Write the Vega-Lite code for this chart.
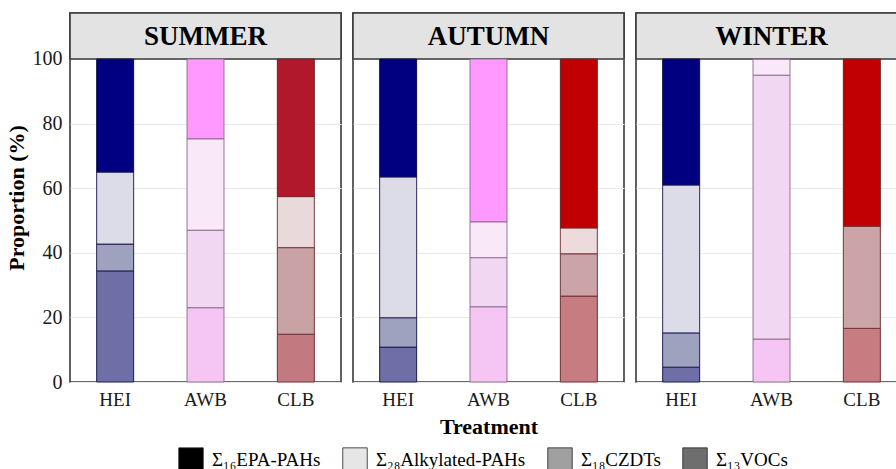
{
  "$schema": "https://vega.github.io/schema/vega-lite/v6.json",
  "background": "white",
  "padding": {"left": 5, "top": 11, "right": 0, "bottom": 0},
  "config": {
    "font": "Liberation Serif",
    "view": {"stroke": "#3a3a3a", "strokeWidth": 1.6},
    "style": {"guide-label": {"font": "Liberation Serif"}, "guide-title": {"font": "Liberation Serif"}},
    "axis": {"labelFont": "Liberation Serif", "labelColor": "#1a1a1a", "titleFont": "Liberation Serif", "titleColor": "#000", "domain": false, "ticks": false},
    "legend": {"labelFont": "Liberation Serif", "labelColor": "#000"}
  },
  "data": {
    "values": [
      {"season": "SUMMER", "treatment": "HEI", "component": "VOCs", "value": 34.4},
      {"season": "SUMMER", "treatment": "HEI", "component": "CZDTs", "value": 8.3},
      {"season": "SUMMER", "treatment": "HEI", "component": "Alkylated", "value": 22.3},
      {"season": "SUMMER", "treatment": "HEI", "component": "EPA", "value": 35.0},
      {"season": "SUMMER", "treatment": "AWB", "component": "VOCs", "value": 23.0},
      {"season": "SUMMER", "treatment": "AWB", "component": "CZDTs", "value": 24.0},
      {"season": "SUMMER", "treatment": "AWB", "component": "Alkylated", "value": 28.3},
      {"season": "SUMMER", "treatment": "AWB", "component": "EPA", "value": 24.7},
      {"season": "SUMMER", "treatment": "CLB", "component": "VOCs", "value": 14.8},
      {"season": "SUMMER", "treatment": "CLB", "component": "CZDTs", "value": 26.8},
      {"season": "SUMMER", "treatment": "CLB", "component": "Alkylated", "value": 15.8},
      {"season": "SUMMER", "treatment": "CLB", "component": "EPA", "value": 42.6},
      {"season": "AUTUMN", "treatment": "HEI", "component": "VOCs", "value": 10.8},
      {"season": "AUTUMN", "treatment": "HEI", "component": "CZDTs", "value": 9.1},
      {"season": "AUTUMN", "treatment": "HEI", "component": "Alkylated", "value": 43.6},
      {"season": "AUTUMN", "treatment": "HEI", "component": "EPA", "value": 36.5},
      {"season": "AUTUMN", "treatment": "AWB", "component": "VOCs", "value": 23.3},
      {"season": "AUTUMN", "treatment": "AWB", "component": "CZDTs", "value": 15.2},
      {"season": "AUTUMN", "treatment": "AWB", "component": "Alkylated", "value": 11.1},
      {"season": "AUTUMN", "treatment": "AWB", "component": "EPA", "value": 50.4},
      {"season": "AUTUMN", "treatment": "CLB", "component": "VOCs", "value": 26.6},
      {"season": "AUTUMN", "treatment": "CLB", "component": "CZDTs", "value": 13.1},
      {"season": "AUTUMN", "treatment": "CLB", "component": "Alkylated", "value": 8.0},
      {"season": "AUTUMN", "treatment": "CLB", "component": "EPA", "value": 52.3},
      {"season": "WINTER", "treatment": "HEI", "component": "VOCs", "value": 4.6},
      {"season": "WINTER", "treatment": "HEI", "component": "CZDTs", "value": 10.6},
      {"season": "WINTER", "treatment": "HEI", "component": "Alkylated", "value": 45.8},
      {"season": "WINTER", "treatment": "HEI", "component": "EPA", "value": 39.0},
      {"season": "WINTER", "treatment": "AWB", "component": "VOCs", "value": 13.3},
      {"season": "WINTER", "treatment": "AWB", "component": "CZDTs", "value": 81.7},
      {"season": "WINTER", "treatment": "AWB", "component": "Alkylated", "value": 5.0},
      {"season": "WINTER", "treatment": "AWB", "component": "EPA", "value": 0},
      {"season": "WINTER", "treatment": "CLB", "component": "VOCs", "value": 16.6},
      {"season": "WINTER", "treatment": "CLB", "component": "CZDTs", "value": 31.7},
      {"season": "WINTER", "treatment": "CLB", "component": "Alkylated", "value": 0},
      {"season": "WINTER", "treatment": "CLB", "component": "EPA", "value": 51.7}
    ]
  },
  "transform": [
    {"calculate": "indexof(['VOCs', 'CZDTs', 'Alkylated', 'EPA'], datum.component)", "as": "stackOrder"},
    {"calculate": "datum.treatment + '-' + datum.component + (datum.treatment == 'CLB' && datum.season == 'SUMMER' ? '-S' : '')", "as": "paint"}
  ],
  "facet": {
    "column": {
      "field": "season",
      "sort": ["SUMMER", "AUTUMN", "WINTER"],
      "title": "Treatment",
      "header": {"labels": false, "titleOrient": "bottom", "titleFont": "Liberation Serif", "titleFontSize": 22, "titleFontWeight": "bold", "titleColor": "#000", "titlePadding": -2}
    }
  },
  "spacing": 8,
  "spec": {
    "width": 271,
    "height": 369,
    "encoding": {
      "x": {"field": "treatment", "type": "nominal", "sort": ["HEI", "AWB", "CLB"], "scale": {"paddingInner": 0, "paddingOuter": 0},
            "axis": {"title": null, "labelAngle": 0, "labelPadding": 6, "labelFont": "Liberation Serif", "labelFontSize": 19, "labelColor": "#1a1a1a"}}
    },
    "layer": [
      {
        "transform": [{"aggregate": [{"op": "count", "as": "n"}], "groupby": ["season"]}],
        "mark": {"type": "rect", "fill": "#e3e3e3", "stroke": "#3a3a3a", "strokeWidth": 1.6},
        "encoding": {
          "x": null,
          "y": {"datum": 100, "type": "quantitative", "scale": {"domain": [0, 114.24], "nice": false}},
          "y2": {"datum": 114.24}
        }
      },
      {
        "transform": [{"aggregate": [{"op": "count", "as": "n"}], "groupby": ["season"]}],
        "mark": {"type": "text", "font": "Liberation Serif", "fontSize": 27, "fontWeight": "bold", "color": "#000", "baseline": "middle"},
        "encoding": {
          "x": null,
          "y": {"datum": 106.8, "type": "quantitative"},
          "text": {"field": "season"}
        }
      },
      {
        "mark": {"type": "bar", "size": 37},
        "encoding": {
          "y": {"field": "value", "type": "quantitative", "stack": "zero",
                "axis": {"title": "Proportion (%)", "values": [0, 20, 40, 60, 80, 100], "titleFont": "Liberation Serif", "titleFontSize": 22, "titleFontWeight": "bold", "titlePadding": 4,
                         "labelFont": "Liberation Serif", "labelFontSize": 20, "labelColor": "#1a1a1a", "labelPadding": 6, "grid": true, "gridColor": "#e9e9e9", "gridWidth": 1}},
          "order": {"field": "stackOrder"},
          "fill": {
            "field": "component", "type": "nominal",
            "scale": {"domain": ["EPA", "Alkylated", "CZDTs", "VOCs"], "range": ["#000000", "#e6e6e6", "#a0a0a0", "#6e6e6e"]},
            "legend": {
              "title": null, "orient": "none", "legendX": 108, "legendY": 434, "direction": "horizontal", "symbolType": "square", "symbolSize": 600,
              "symbolStrokeColor": "#222", "symbolStrokeWidth": 0.8, "columnPadding": 20, "labelOffset": 8,
              "labelFont": "Liberation Serif", "labelFontSize": 19, "labelColor": "#000",
              "labelExpr": "{'EPA': 'Σ₁₆EPA-PAHs', 'Alkylated': 'Σ₂₈Alkylated-PAHs', 'CZDTs': 'Σ₁₈CZDTs', 'VOCs': 'Σ₁₃VOCs'}[datum.value]"
            }
          }
        }
      },
      {
        "mark": {"type": "bar", "size": 37, "strokeWidth": 0.9},
        "encoding": {
          "y": {"field": "value", "type": "quantitative", "stack": "zero"},
          "order": {"field": "stackOrder"},
          "color": {
            "field": "paint", "type": "nominal", "legend": null,
            "scale": {
              "domain": ["HEI-EPA", "HEI-Alkylated", "HEI-CZDTs", "HEI-VOCs",
                         "AWB-EPA", "AWB-Alkylated", "AWB-CZDTs", "AWB-VOCs",
                         "CLB-EPA-S", "CLB-Alkylated-S", "CLB-CZDTs-S", "CLB-VOCs-S",
                         "CLB-EPA", "CLB-Alkylated", "CLB-CZDTs", "CLB-VOCs"],
              "range": ["#000080", "#dcdce8", "#9ea2bf", "#6f6fa8",
                        "#ff99ff", "#f8e8f8", "#f1d7f1", "#f5c6f3",
                        "#b2182b", "#ead9da", "#c9a2a6", "#c27a80",
                        "#c00000", "#eddada", "#cba4a7", "#c67c80"]
            }
          },
          "stroke": {
            "field": "treatment", "type": "nominal", "legend": null,
            "scale": {"domain": ["HEI", "AWB", "CLB"], "range": ["#14144a", "#8a668a", "#6b2b30"]}
          }
        }
      }
    ]
  }
}
